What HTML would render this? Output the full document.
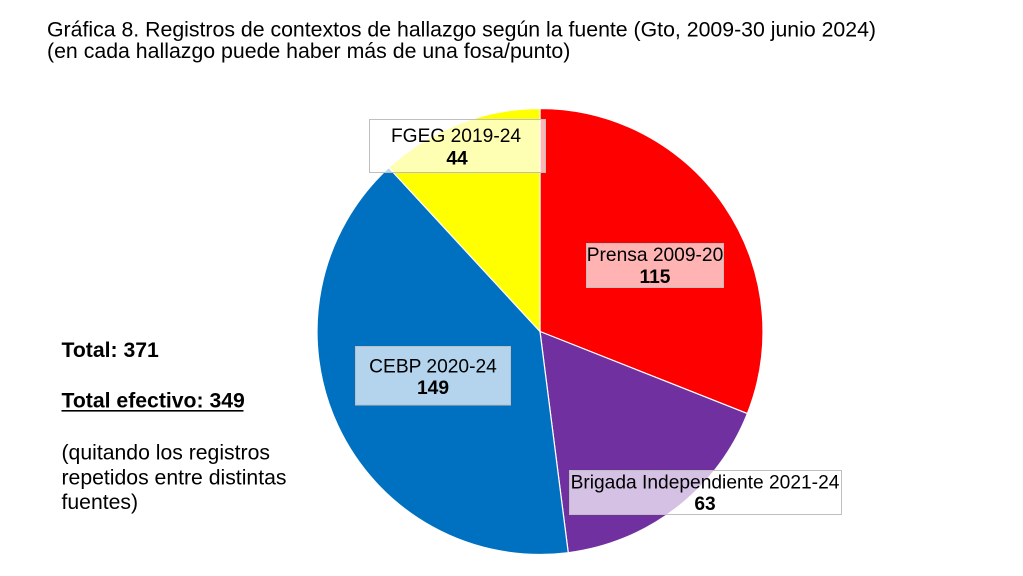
<!DOCTYPE html>
<html>
<head>
<meta charset="utf-8">
<style>
html,body{margin:0;padding:0;background:#fff;}
svg{display:block;}
text{font-family:"Liberation Sans",Arial,sans-serif;fill:#000;}
</style>
</head>
<body>
<svg width="1023" height="576" viewBox="0 0 1023 576" xmlns="http://www.w3.org/2000/svg">
  <rect width="1023" height="576" fill="#fff"/>
  <text x="47" y="36.5" font-size="21.3" textLength="829" lengthAdjust="spacingAndGlyphs">Gráfica 8. Registros de contextos de hallazgo según la fuente (Gto, 2009-30 junio 2024)</text>
  <text x="47" y="58" font-size="21.3">(en cada hallazgo puede haber más de una fosa/punto)</text>

  <g stroke="#fff" stroke-width="1.2" stroke-linejoin="round">
    <path d="M540,331.5 L540,108.5 A223,223 0 0,1 747.36,413.55 Z" fill="#FF0000"/>
    <path d="M540,331.5 L747.36,413.55 A223,223 0 0,1 568.25,552.7 Z" fill="#7030A0"/>
    <path d="M540,331.5 L568.25,552.7 A223,223 0 0,1 388.79,167.6 Z" fill="#0070C0"/>
    <path d="M540,331.5 L388.79,167.6 A223,223 0 0,1 540,108.5 Z" fill="#FFFF00"/>
  </g>

  <g fill="rgba(255,255,255,0.7)" stroke="#bfbfbf" stroke-width="1">
    <rect x="369.5" y="119.5" width="176" height="53"/>
    <rect x="586.5" y="243.5" width="137" height="44"/>
    <rect x="355.5" y="346.5" width="155" height="58.5"/>
    <rect x="569.5" y="470.5" width="272" height="44"/>
  </g>

  <g font-size="19.2" text-anchor="middle">
    <text x="456" y="142">FGEG 2019-24</text>
    <text x="457" y="164.5" font-weight="bold">44</text>
    <text x="655" y="261">Prensa 2009-20</text>
    <text x="655" y="283" font-weight="bold">115</text>
    <text x="433" y="372.5">CEBP 2020-24</text>
    <text x="433" y="394" font-weight="bold">149</text>
    <text x="705" y="488.5">Brigada Independiente 2021-24</text>
    <text x="705" y="510" font-weight="bold">63</text>
  </g>

  <g font-size="21.2">
    <text x="61.5" y="357" font-weight="bold">Total: 371</text>
    <text x="61.5" y="407.5" font-weight="bold">Total efectivo: 349</text>
    <rect x="61.5" y="410" width="182" height="1.6" fill="#000"/>
    <text x="61.5" y="459.5">(quitando los registros</text>
    <text x="61.5" y="484.5">repetidos entre distintas</text>
    <text x="61.5" y="509">fuentes)</text>
  </g>
</svg>
</body>
</html>
